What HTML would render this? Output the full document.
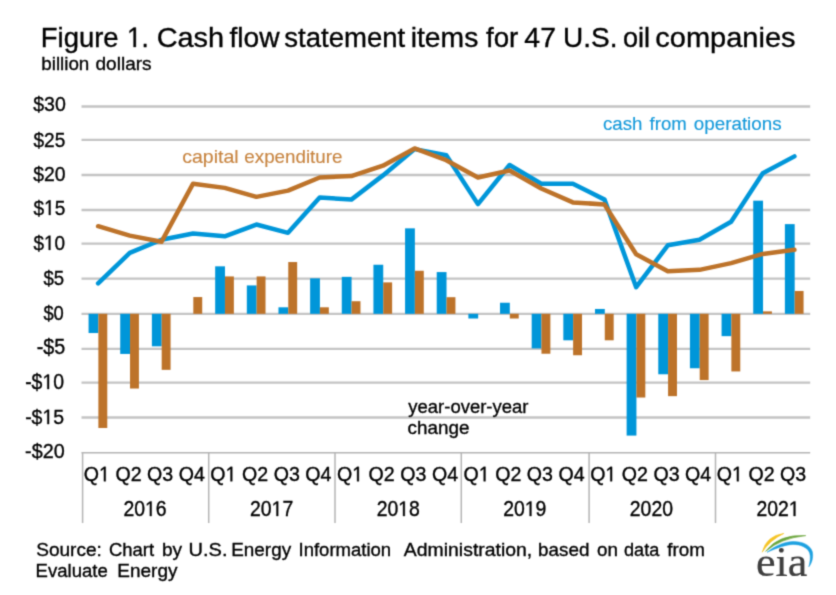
<!DOCTYPE html>
<html><head><meta charset="utf-8"><style>
html,body{margin:0;padding:0;background:#fff;width:836px;height:595px;overflow:hidden}
svg{position:absolute;left:0;top:0;font-family:"Liberation Sans",sans-serif}
text{stroke:currentColor;stroke-width:0.35px}
text.ns{stroke-width:0.15px}
</style></head><body>
<svg width="836" height="595" viewBox="0 0 836 595">
<defs><filter id="bl" x="0" y="0" width="836" height="595" filterUnits="userSpaceOnUse" color-interpolation-filters="sRGB"><feConvolveMatrix order="3" kernelMatrix="1 4 1 4 16 4 1 4 1" divisor="36" edgeMode="duplicate"/></filter></defs>
<rect width="836" height="595" fill="#fff"/>
<g filter="url(#bl)">
<text transform="translate(40.85,47.00) scale(0.9977,1.025)" font-size="27.5" fill="#000" color="#000">Figure</text>
<text transform="translate(126.99,47.00) scale(0.9506,1.025)" font-size="27.5" fill="#000" color="#000"> .</text><path transform="translate(126.99,47.00) scale(0.9506,1.025)" d="M6.915,0.000 L6.915,-16.610 L2.645,-13.562 L2.645,-15.845 L7.117,-18.920 L9.346,-18.920 L9.346,0.000Z" fill="#000" stroke="#000" stroke-width="0.35"/>
<text transform="translate(156.63,47.00) scale(1.0506,1.025)" font-size="27.5" fill="#000" color="#000">Cash</text>
<text transform="translate(229.50,47.00) scale(1.0251,1.025)" font-size="27.5" fill="#000" color="#000">flow</text>
<text transform="translate(284.33,47.00) scale(1.0018,1.025)" font-size="27.5" fill="#000" color="#000">statement</text>
<text transform="translate(410.71,47.00) scale(1.0291,1.025)" font-size="27.5" fill="#000" color="#000">items</text>
<text transform="translate(486.01,47.00) scale(1.0081,1.025)" font-size="27.5" fill="#000" color="#000">for</text>
<text transform="translate(524.35,47.00) scale(1.0324,1.025)" font-size="27.5" fill="#000" color="#000">47</text>
<text transform="translate(563.04,47.00) scale(1.0194,1.025)" font-size="27.5" fill="#000" color="#000">U.S.</text>
<text transform="translate(622.96,47.00) scale(0.9870,1.025)" font-size="27.5" fill="#000" color="#000">oil</text>
<text transform="translate(655.27,47.00) scale(1.0548,1.025)" font-size="27.5" fill="#000" color="#000">companies</text>
<text transform="translate(41.29,69.90) scale(0.9886,0.98)" font-size="19" fill="#000" color="#000">billion</text>
<text transform="translate(95.50,69.90) scale(1.0021,0.98)" font-size="19" fill="#000" color="#000">dollars</text>
<line x1="81.5" y1="106.5" x2="810.2" y2="106.5" stroke="#c3c3c3" stroke-width="2.3"/>
<line x1="81.5" y1="139.9" x2="810.2" y2="139.9" stroke="#c3c3c3" stroke-width="2.3"/>
<line x1="81.5" y1="175.0" x2="810.2" y2="175.0" stroke="#c3c3c3" stroke-width="2.3"/>
<line x1="81.5" y1="210.0" x2="810.2" y2="210.0" stroke="#c3c3c3" stroke-width="2.3"/>
<line x1="81.5" y1="243.6" x2="810.2" y2="243.6" stroke="#c3c3c3" stroke-width="2.3"/>
<line x1="81.5" y1="278.7" x2="810.2" y2="278.7" stroke="#c3c3c3" stroke-width="2.3"/>
<line x1="81.5" y1="313.8" x2="810.2" y2="313.8" stroke="#c3c3c3" stroke-width="2.3"/>
<line x1="81.5" y1="348.8" x2="810.2" y2="348.8" stroke="#c3c3c3" stroke-width="2.3"/>
<line x1="81.5" y1="382.6" x2="810.2" y2="382.6" stroke="#c3c3c3" stroke-width="2.3"/>
<line x1="81.5" y1="417.5" x2="810.2" y2="417.5" stroke="#c3c3c3" stroke-width="2.3"/>
<line x1="81.5" y1="452.7" x2="810.2" y2="452.7" stroke="#b4b4b4" stroke-width="1.5"/>
<line x1="82.60" y1="452.0" x2="82.60" y2="523" stroke="#b4b4b4" stroke-width="1.5"/>
<line x1="208.70" y1="452.0" x2="208.70" y2="523" stroke="#b4b4b4" stroke-width="1.5"/>
<line x1="335.00" y1="452.0" x2="335.00" y2="523" stroke="#b4b4b4" stroke-width="1.5"/>
<line x1="461.30" y1="452.0" x2="461.30" y2="523" stroke="#b4b4b4" stroke-width="1.5"/>
<line x1="589.10" y1="452.0" x2="589.10" y2="523" stroke="#b4b4b4" stroke-width="1.5"/>
<line x1="715.50" y1="452.0" x2="715.50" y2="523" stroke="#b4b4b4" stroke-width="1.5"/>
<rect x="88.58" y="313.80" width="9.8" height="19.24" fill="#0096d9"/>
<rect x="98.38" y="313.80" width="8.9" height="114.18" fill="#bd732a"/>
<rect x="120.22" y="313.80" width="9.8" height="40.14" fill="#0096d9"/>
<rect x="130.02" y="313.80" width="8.9" height="74.74" fill="#bd732a"/>
<rect x="151.88" y="313.80" width="9.8" height="32.52" fill="#0096d9"/>
<rect x="161.68" y="313.80" width="8.9" height="56.05" fill="#bd732a"/>
<rect x="193.32" y="297.05" width="8.9" height="16.75" fill="#bd732a"/>
<rect x="215.17" y="266.33" width="9.8" height="47.47" fill="#0096d9"/>
<rect x="224.97" y="276.43" width="8.9" height="37.37" fill="#bd732a"/>
<rect x="246.82" y="285.43" width="9.8" height="28.37" fill="#0096d9"/>
<rect x="256.62" y="276.43" width="8.9" height="37.37" fill="#bd732a"/>
<rect x="278.47" y="307.30" width="9.8" height="6.50" fill="#0096d9"/>
<rect x="288.27" y="262.04" width="8.9" height="51.76" fill="#bd732a"/>
<rect x="310.12" y="278.37" width="9.8" height="35.43" fill="#0096d9"/>
<rect x="319.93" y="307.30" width="8.9" height="6.50" fill="#bd732a"/>
<rect x="341.77" y="276.85" width="9.8" height="36.95" fill="#0096d9"/>
<rect x="351.57" y="301.21" width="8.9" height="12.59" fill="#bd732a"/>
<rect x="373.43" y="264.74" width="9.8" height="49.06" fill="#0096d9"/>
<rect x="383.23" y="282.38" width="8.9" height="31.42" fill="#bd732a"/>
<rect x="405.07" y="228.34" width="9.8" height="85.46" fill="#0096d9"/>
<rect x="414.88" y="270.76" width="8.9" height="43.04" fill="#bd732a"/>
<rect x="436.72" y="272.07" width="9.8" height="41.73" fill="#0096d9"/>
<rect x="446.52" y="297.19" width="8.9" height="16.61" fill="#bd732a"/>
<rect x="468.38" y="313.80" width="9.8" height="4.71" fill="#0096d9"/>
<rect x="500.02" y="302.73" width="9.8" height="11.07" fill="#0096d9"/>
<rect x="509.82" y="313.80" width="8.9" height="4.71" fill="#bd732a"/>
<rect x="531.67" y="313.80" width="9.8" height="34.60" fill="#0096d9"/>
<rect x="541.47" y="313.80" width="8.9" height="39.93" fill="#bd732a"/>
<rect x="563.33" y="313.80" width="9.8" height="26.50" fill="#0096d9"/>
<rect x="573.12" y="313.80" width="8.9" height="41.45" fill="#bd732a"/>
<rect x="594.98" y="308.96" width="9.8" height="4.84" fill="#0096d9"/>
<rect x="604.77" y="313.80" width="8.9" height="26.50" fill="#bd732a"/>
<rect x="626.62" y="313.80" width="9.8" height="121.79" fill="#0096d9"/>
<rect x="636.42" y="313.80" width="8.9" height="83.73" fill="#bd732a"/>
<rect x="658.27" y="313.80" width="9.8" height="60.48" fill="#0096d9"/>
<rect x="668.07" y="313.80" width="8.9" height="82.35" fill="#bd732a"/>
<rect x="689.92" y="313.80" width="9.8" height="54.46" fill="#0096d9"/>
<rect x="699.72" y="313.80" width="8.9" height="66.29" fill="#bd732a"/>
<rect x="721.57" y="313.80" width="9.8" height="22.35" fill="#0096d9"/>
<rect x="731.37" y="313.80" width="8.9" height="57.64" fill="#bd732a"/>
<rect x="753.23" y="200.66" width="9.8" height="113.14" fill="#0096d9"/>
<rect x="763.02" y="311.38" width="8.9" height="2.42" fill="#bd732a"/>
<rect x="784.88" y="224.12" width="9.8" height="89.68" fill="#0096d9"/>
<rect x="794.67" y="290.96" width="8.9" height="22.84" fill="#bd732a"/>
<polyline points="98.12,283.35 129.77,252.90 161.43,239.76 193.07,233.53 224.72,236.30 256.38,224.53 288.02,232.84 319.68,197.54 351.32,199.62 382.98,175.40 414.62,149.10 446.27,155.33 477.93,204.12 509.57,165.02 541.22,183.70 572.88,183.70 604.52,199.62 636.17,287.16 667.82,245.29 699.47,239.76 731.12,221.76 762.77,173.32 794.42,156.37" fill="none" stroke="#0096d9" stroke-width="4.5" stroke-linejoin="round" stroke-linecap="round"/>
<polyline points="98.12,226.19 129.77,235.60 161.43,241.83 193.07,183.70 224.72,187.86 256.38,196.85 288.02,190.62 319.68,177.48 351.32,176.09 382.98,165.71 414.62,148.41 446.27,160.18 477.93,177.48 509.57,170.56 541.22,188.55 572.88,202.39 604.52,204.46 636.17,254.29 667.82,271.24 699.47,269.86 731.12,263.08 762.77,253.94 794.42,249.72" fill="none" stroke="#bd732a" stroke-width="4.5" stroke-linejoin="round" stroke-linecap="round"/>
<text transform="translate(33.19,111.10) scale(0.9326,0.999)" font-size="21" fill="#000" color="#000">$30</text>
<text transform="translate(33.39,146.60) scale(0.9107,0.993)" font-size="21" fill="#000" color="#000">$25</text>
<text transform="translate(33.19,181.20) scale(0.9238,0.999)" font-size="21" fill="#000" color="#000">$20</text>
<text transform="translate(33.39,214.90) scale(0.9107,1.006)" font-size="21" fill="#000" color="#000">$ 5</text><path transform="translate(33.39,214.90) scale(0.9107,1.006)" d="M16.960,0.000 L16.960,-12.684 L13.699,-10.356 L13.699,-12.100 L17.114,-14.448 L18.816,-14.448 L18.816,0.000Z" fill="#000" stroke="#000" stroke-width="0.35"/>
<text transform="translate(33.40,249.90) scale(0.9032,0.986)" font-size="21" fill="#000" color="#000">$ 0</text><path transform="translate(33.40,249.90) scale(0.9032,0.986)" d="M16.960,0.000 L16.960,-12.684 L13.699,-10.356 L13.699,-12.100 L17.114,-14.448 L18.816,-14.448 L18.816,0.000Z" fill="#000" stroke="#000" stroke-width="0.35"/>
<text transform="translate(43.40,284.90) scale(0.8854,1.006)" font-size="21" fill="#000" color="#000">$5</text>
<text transform="translate(43.40,320.30) scale(0.8739,0.993)" font-size="21" fill="#000" color="#000">$0</text>
<text transform="translate(36.72,353.90) scale(0.9391,1.019)" font-size="21" fill="#000" color="#000">-$5</text>
<text transform="translate(25.14,389.10) scale(0.9261,1.013)" font-size="21" fill="#000" color="#000">-$ 0</text><path transform="translate(25.14,389.10) scale(0.9261,1.013)" d="M23.953,0.000 L23.953,-12.684 L20.692,-10.356 L20.692,-12.100 L24.107,-14.448 L25.809,-14.448 L25.809,0.000Z" fill="#000" stroke="#000" stroke-width="0.35"/>
<text transform="translate(25.13,424.10) scale(0.9275,0.999)" font-size="21" fill="#000" color="#000">-$ 5</text><path transform="translate(25.13,424.10) scale(0.9275,0.999)" d="M23.953,0.000 L23.953,-12.684 L20.692,-10.356 L20.692,-12.100 L24.107,-14.448 L25.809,-14.448 L25.809,0.000Z" fill="#000" stroke="#000" stroke-width="0.35"/>
<text transform="translate(25.12,458.10) scale(0.9410,0.979)" font-size="21" fill="#000" color="#000">-$20</text>
<text transform="translate(96.83,481.30) scale(1.0000,1.07)" font-size="19.6" text-anchor="middle" fill="#000" color="#000">Q </text><path transform="translate(96.83,481.30) scale(1.0000,1.07)" d="M7.101,0.000 L7.101,-11.838 L4.058,-9.666 L4.058,-11.293 L7.245,-13.485 L8.833,-13.485 L8.833,0.000Z" fill="#000" stroke="#000" stroke-width="0.35"/>
<text transform="translate(128.47,481.30) scale(1.0000,1.07)" font-size="19.6" text-anchor="middle" fill="#000" color="#000">Q2</text>
<text transform="translate(160.12,481.30) scale(1.0000,1.07)" font-size="19.6" text-anchor="middle" fill="#000" color="#000">Q3</text>
<text transform="translate(191.77,481.30) scale(1.0000,1.07)" font-size="19.6" text-anchor="middle" fill="#000" color="#000">Q4</text>
<text transform="translate(223.42,481.30) scale(1.0000,1.07)" font-size="19.6" text-anchor="middle" fill="#000" color="#000">Q </text><path transform="translate(223.42,481.30) scale(1.0000,1.07)" d="M7.101,0.000 L7.101,-11.838 L4.058,-9.666 L4.058,-11.293 L7.245,-13.485 L8.833,-13.485 L8.833,0.000Z" fill="#000" stroke="#000" stroke-width="0.35"/>
<text transform="translate(255.07,481.30) scale(1.0000,1.07)" font-size="19.6" text-anchor="middle" fill="#000" color="#000">Q2</text>
<text transform="translate(286.72,481.30) scale(1.0000,1.07)" font-size="19.6" text-anchor="middle" fill="#000" color="#000">Q3</text>
<text transform="translate(318.38,481.30) scale(1.0000,1.07)" font-size="19.6" text-anchor="middle" fill="#000" color="#000">Q4</text>
<text transform="translate(350.02,481.30) scale(1.0000,1.07)" font-size="19.6" text-anchor="middle" fill="#000" color="#000">Q </text><path transform="translate(350.02,481.30) scale(1.0000,1.07)" d="M7.101,0.000 L7.101,-11.838 L4.058,-9.666 L4.058,-11.293 L7.245,-13.485 L8.833,-13.485 L8.833,0.000Z" fill="#000" stroke="#000" stroke-width="0.35"/>
<text transform="translate(381.68,481.30) scale(1.0000,1.07)" font-size="19.6" text-anchor="middle" fill="#000" color="#000">Q2</text>
<text transform="translate(413.32,481.30) scale(1.0000,1.07)" font-size="19.6" text-anchor="middle" fill="#000" color="#000">Q3</text>
<text transform="translate(444.97,481.30) scale(1.0000,1.07)" font-size="19.6" text-anchor="middle" fill="#000" color="#000">Q4</text>
<text transform="translate(476.62,481.30) scale(1.0000,1.07)" font-size="19.6" text-anchor="middle" fill="#000" color="#000">Q </text><path transform="translate(476.62,481.30) scale(1.0000,1.07)" d="M7.101,0.000 L7.101,-11.838 L4.058,-9.666 L4.058,-11.293 L7.245,-13.485 L8.833,-13.485 L8.833,0.000Z" fill="#000" stroke="#000" stroke-width="0.35"/>
<text transform="translate(508.27,481.30) scale(1.0000,1.07)" font-size="19.6" text-anchor="middle" fill="#000" color="#000">Q2</text>
<text transform="translate(539.92,481.30) scale(1.0000,1.07)" font-size="19.6" text-anchor="middle" fill="#000" color="#000">Q3</text>
<text transform="translate(571.58,481.30) scale(1.0000,1.07)" font-size="19.6" text-anchor="middle" fill="#000" color="#000">Q4</text>
<text transform="translate(603.23,481.30) scale(1.0000,1.07)" font-size="19.6" text-anchor="middle" fill="#000" color="#000">Q </text><path transform="translate(603.23,481.30) scale(1.0000,1.07)" d="M7.101,0.000 L7.101,-11.838 L4.058,-9.666 L4.058,-11.293 L7.245,-13.485 L8.833,-13.485 L8.833,0.000Z" fill="#000" stroke="#000" stroke-width="0.35"/>
<text transform="translate(634.88,481.30) scale(1.0000,1.07)" font-size="19.6" text-anchor="middle" fill="#000" color="#000">Q2</text>
<text transform="translate(666.52,481.30) scale(1.0000,1.07)" font-size="19.6" text-anchor="middle" fill="#000" color="#000">Q3</text>
<text transform="translate(698.17,481.30) scale(1.0000,1.07)" font-size="19.6" text-anchor="middle" fill="#000" color="#000">Q4</text>
<text transform="translate(729.82,481.30) scale(1.0000,1.07)" font-size="19.6" text-anchor="middle" fill="#000" color="#000">Q </text><path transform="translate(729.82,481.30) scale(1.0000,1.07)" d="M7.101,0.000 L7.101,-11.838 L4.058,-9.666 L4.058,-11.293 L7.245,-13.485 L8.833,-13.485 L8.833,0.000Z" fill="#000" stroke="#000" stroke-width="0.35"/>
<text transform="translate(761.48,481.30) scale(1.0000,1.07)" font-size="19.6" text-anchor="middle" fill="#000" color="#000">Q2</text>
<text transform="translate(793.12,481.30) scale(1.0000,1.07)" font-size="19.6" text-anchor="middle" fill="#000" color="#000">Q3</text>
<text transform="translate(145.00,516.00) scale(1.0000,1.09)" font-size="19.4" text-anchor="middle" fill="#000" color="#000">20 6</text><path transform="translate(145.00,516.00) scale(1.0000,1.09)" d="M4.878,0.000 L4.878,-11.718 L1.866,-9.567 L1.866,-11.178 L5.021,-13.347 L6.593,-13.347 L6.593,0.000Z" fill="#000" stroke="#000" stroke-width="0.35"/>
<text transform="translate(271.60,516.00) scale(1.0000,1.09)" font-size="19.4" text-anchor="middle" fill="#000" color="#000">20 7</text><path transform="translate(271.60,516.00) scale(1.0000,1.09)" d="M4.878,0.000 L4.878,-11.718 L1.866,-9.567 L1.866,-11.178 L5.021,-13.347 L6.593,-13.347 L6.593,0.000Z" fill="#000" stroke="#000" stroke-width="0.35"/>
<text transform="translate(398.20,516.00) scale(1.0000,1.09)" font-size="19.4" text-anchor="middle" fill="#000" color="#000">20 8</text><path transform="translate(398.20,516.00) scale(1.0000,1.09)" d="M4.878,0.000 L4.878,-11.718 L1.866,-9.567 L1.866,-11.178 L5.021,-13.347 L6.593,-13.347 L6.593,0.000Z" fill="#000" stroke="#000" stroke-width="0.35"/>
<text transform="translate(524.80,516.00) scale(1.0000,1.09)" font-size="19.4" text-anchor="middle" fill="#000" color="#000">20 9</text><path transform="translate(524.80,516.00) scale(1.0000,1.09)" d="M4.878,0.000 L4.878,-11.718 L1.866,-9.567 L1.866,-11.178 L5.021,-13.347 L6.593,-13.347 L6.593,0.000Z" fill="#000" stroke="#000" stroke-width="0.35"/>
<text transform="translate(651.40,516.00) scale(1.0000,1.09)" font-size="19.4" text-anchor="middle" fill="#000" color="#000">2020</text>
<text transform="translate(778.00,516.00) scale(1.0000,1.09)" font-size="19.4" text-anchor="middle" fill="#000" color="#000">202 </text><path transform="translate(778.00,516.00) scale(1.0000,1.09)" d="M15.668,0.000 L15.668,-11.718 L12.655,-9.567 L12.655,-11.178 L15.810,-13.347 L17.382,-13.347 L17.382,0.000Z" fill="#000" stroke="#000" stroke-width="0.35"/>
<text transform="translate(182.27,162.50) scale(1.0276,0.98)" font-size="19" fill="#c78440" color="#c78440" class="ns">capital</text>
<text transform="translate(244.30,162.50) scale(0.9893,0.98)" font-size="19" fill="#c78440" color="#c78440" class="ns">expenditure</text>
<text transform="translate(602.91,130.30) scale(0.9844,1.0)" font-size="19" fill="#1499da" color="#1499da" class="ns">cash</text>
<text transform="translate(649.54,130.30) scale(0.9787,1.0)" font-size="19" fill="#1499da" color="#1499da" class="ns">from</text>
<text transform="translate(693.81,130.30) scale(0.9903,1.0)" font-size="19" fill="#1499da" color="#1499da" class="ns">operations</text>
<text transform="translate(408.35,412.80) scale(0.9718,0.97)" font-size="19" fill="#000" color="#000">year-over-year</text>
<text transform="translate(407.60,433.70) scale(0.9937,0.97)" font-size="19" fill="#000" color="#000">change</text>
<text transform="translate(36.23,555.60) scale(1.0035,1.01)" font-size="19" fill="#000" color="#000">Source:</text>
<text transform="translate(108.96,555.60) scale(0.9723,1.01)" font-size="19" fill="#000" color="#000">Chart</text>
<text transform="translate(161.97,555.60) scale(1.0050,1.01)" font-size="19" fill="#000" color="#000">by</text>
<text transform="translate(188.55,555.60) scale(1.0548,1.01)" font-size="19" fill="#000" color="#000">U.S.</text>
<text transform="translate(231.25,555.60) scale(0.9948,1.01)" font-size="19" fill="#000" color="#000">Energy</text>
<text transform="translate(298.49,555.60) scale(0.9755,1.01)" font-size="19" fill="#000" color="#000">Information</text>
<text transform="translate(403.86,555.60) scale(1.0216,1.01)" font-size="19" fill="#000" color="#000">Administration,</text>
<text transform="translate(538.09,555.60) scale(0.9915,1.01)" font-size="19" fill="#000" color="#000">based</text>
<text transform="translate(597.11,555.60) scale(0.9894,1.01)" font-size="19" fill="#000" color="#000">on</text>
<text transform="translate(624.04,555.60) scale(0.9535,1.01)" font-size="19" fill="#000" color="#000">data</text>
<text transform="translate(667.23,555.60) scale(0.9896,1.01)" font-size="19" fill="#000" color="#000">from</text>
<text transform="translate(35.58,577.10) scale(0.9757,1.01)" font-size="19" fill="#000" color="#000">Evaluate</text>
<text transform="translate(117.34,577.10) scale(0.9999,1.01)" font-size="19" fill="#000" color="#000">Energy</text>
<g class="logo">
<path d="M762.2,552.2 Q766.3,535.7 783.9,533.4 Q770.0,540.0 762.2,552.2 Z" fill="#f5c425" stroke="#f5c425" stroke-width="0.6"/>
<path d="M765.5,551.4 Q778.7,533.8 805.8,535.6 Q780.4,538.5 765.5,551.4 Z" fill="#6aa53a" stroke="#6aa53a" stroke-width="0.6"/>
<path d="M767.0,552.3 C776,545 786,541.6 793,541.5 C802.5,541.4 810.5,545 812.4,552 C813.4,558 811.6,563.5 808.8,566.8 C810.2,562 810.9,557 809.7,553 C807.6,547.4 800.5,544.4 793,544.5 C786,544.6 777,548 767.0,552.3 Z" fill="#1da1e0" stroke="#1da1e0" stroke-width="0.5"/>
<text transform="translate(756,575.5) scale(1.05,1)" font-family="Liberation Serif" font-size="42" fill="#3f3f3f" class="ns">eia</text>
</g>
</g>
</svg>
</body></html>
